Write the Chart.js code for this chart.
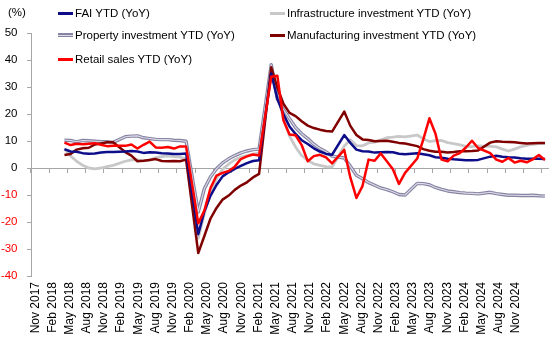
<!DOCTYPE html>
<html><head><meta charset="utf-8">
<script src="https://cdn.jsdelivr.net/npm/chart.js@4.4.1/dist/chart.umd.min.js"></script>
<style>
html,body{margin:0;padding:0;background:#fff;}
#wrap{position:relative;width:550px;height:338px;font-family:"Liberation Sans",Arial,sans-serif;font-size:11.5px;color:#000;overflow:hidden;}
#c{position:absolute;left:0;top:0;}
.lg{position:absolute;white-space:nowrap;line-height:14px;height:14px;}
.sw{position:absolute;left:0;width:15px;height:3px;}
.tx{position:absolute;left:17px;top:0;}
</style></head>
<body>
<div id="wrap">
<canvas id="c" width="550" height="338"></canvas>
<div class="lg" style="left:8px;top:5px;">(%)</div>
<div class="lg" style="left:58px;top:6px;"><span class="sw" style="top:5.5px;background:#0d0d8a"></span><span class="tx">FAI YTD (YoY)</span></div>
<div class="lg" style="left:270px;top:6px;"><span class="sw" style="top:5.5px;background:#c8c8c8"></span><span class="tx">Infrastructure investment YTD (YoY)</span></div>
<div class="lg" style="left:58px;top:28px;"><span class="sw" style="top:5px;height:4px;background:#8784a3"></span><span class="sw" style="top:6.5px;height:1px;background:#dcdbe8"></span><span class="tx">Property investment YTD (YoY)</span></div>
<div class="lg" style="left:270px;top:28px;"><span class="sw" style="top:5.5px;background:#800000"></span><span class="tx">Manufacturing investment YTD (YoY)</span></div>
<div class="lg" style="left:58px;top:52px;"><span class="sw" style="top:5.5px;background:#ff0000"></span><span class="tx">Retail sales YTD (YoY)</span></div>
</div>
<script>
// Monthly categories, Nov 2017 .. Nov 2024
const months = [
 'Nov 2017','Dec 2017',
 'Jan 2018','Feb 2018','Mar 2018','Apr 2018','May 2018','Jun 2018','Jul 2018','Aug 2018','Sep 2018','Oct 2018','Nov 2018','Dec 2018',
 'Jan 2019','Feb 2019','Mar 2019','Apr 2019','May 2019','Jun 2019','Jul 2019','Aug 2019','Sep 2019','Oct 2019','Nov 2019','Dec 2019',
 'Jan 2020','Feb 2020','Mar 2020','Apr 2020','May 2020','Jun 2020','Jul 2020','Aug 2020','Sep 2020','Oct 2020','Nov 2020','Dec 2020',
 'Jan 2021','Feb 2021','Mar 2021','Apr 2021','May 2021','Jun 2021','Jul 2021','Aug 2021','Sep 2021','Oct 2021','Nov 2021','Dec 2021',
 'Jan 2022','Feb 2022','Mar 2022','Apr 2022','May 2022','Jun 2022','Jul 2022','Aug 2022','Sep 2022','Oct 2022','Nov 2022','Dec 2022',
 'Jan 2023','Feb 2023','Mar 2023','Apr 2023','May 2023','Jun 2023','Jul 2023','Aug 2023','Sep 2023','Oct 2023','Nov 2023','Dec 2023',
 'Jan 2024','Feb 2024','Mar 2024','Apr 2024','May 2024','Jun 2024','Jul 2024','Aug 2024','Sep 2024','Oct 2024','Nov 2024'
];
// Axis tick labels shown under the chart
const xTickLabels = [
 'Nov 2017','Feb 2018','May 2018','Aug 2018','Nov 2018','Feb 2019','May 2019','Aug 2019','Nov 2019',
 'Feb 2020','May 2020','Aug 2020','Nov 2020','Feb 2021','May 2021','Aug 2021','Nov 2021',
 'Feb 2022','May 2022','Aug 2022','Nov 2022','Feb 2023','May 2023','Aug 2023','Nov 2023',
 'Feb 2024','May 2024','Aug 2024','Nov 2024'
];
const yTicks = [-40,-30,-20,-10,0,10,20,30,40,50];

const fai = [null,null,null,null,null,
 7.0,6.1,6.0,5.5,5.3,5.4,5.7,5.9,5.9,
 null,6.1,6.3,6.1,5.6,5.8,5.7,5.5,5.4,5.2,5.2,5.4,
 null,-24.5,-16.1,-10.3,-6.3,-3.1,-1.6,-0.3,0.8,1.8,2.6,2.9,
 null,35.0,25.6,19.9,15.4,12.6,10.3,8.9,7.3,6.1,5.2,4.9,
 null,12.2,9.3,6.8,6.2,6.1,5.7,5.8,5.9,5.8,5.3,5.1,
 null,5.5,5.1,4.7,4.0,3.8,3.4,3.2,3.1,2.9,2.9,3.0,
 null,4.2,4.5,4.2,4.0,3.9,3.6,3.4,3.4,3.4,3.3];

const infra = [null,null,null,null,null,
 7.0,4.5,2.5,1.0,0.0,-0.3,0.0,0.5,1.0,
 null,2.5,3.0,3.0,2.6,2.9,3.8,4.2,4.5,4.2,4.0,3.3,
 null,-26.0,-17.0,-9.0,-4.0,-0.5,1.5,3.0,4.0,4.6,5.1,5.5,
 null,35.5,27.5,18.4,11.8,7.8,4.6,2.9,1.5,1.0,0.5,0.4,
 null,8.1,10.5,8.3,8.2,9.3,9.6,10.4,11.2,11.4,11.7,11.5,
 null,12.2,10.8,9.8,10.1,10.2,9.4,9.0,8.6,8.0,7.9,8.2,
 null,8.0,7.8,7.0,6.3,7.0,7.8,8.4,8.8,9.0,9.1];

const property = [null,null,null,null,null,
 10.3,10.2,9.7,10.2,10.1,9.9,9.7,9.7,9.5,
 null,11.6,11.8,11.9,11.2,10.9,10.6,10.5,10.5,10.3,10.2,9.9,
 null,-16.3,-7.7,-3.3,-0.3,1.9,3.4,4.6,5.6,6.3,6.8,7.0,
 null,38.3,25.6,21.6,18.3,15.0,12.7,10.9,8.8,7.2,6.0,4.4,
 null,3.7,0.7,-2.7,-4.0,-5.4,-6.4,-7.4,-8.0,-8.8,-9.8,-10.0,
 null,-5.7,-5.8,-6.2,-7.2,-7.9,-8.5,-8.8,-9.1,-9.3,-9.4,-9.6,
 null,-9.0,-9.5,-9.8,-10.1,-10.1,-10.2,-10.2,-10.1,-10.3,-10.4];

const manufacturing = [null,null,null,null,null,
 4.8,5.2,6.8,7.3,7.5,8.7,9.1,9.5,9.5,
 null,5.9,4.6,2.5,2.7,3.0,3.3,2.6,2.5,2.6,2.5,3.1,
 null,-31.5,-25.2,-18.8,-14.8,-11.7,-10.2,-8.1,-6.5,-5.3,-3.5,-2.2,
 null,37.3,29.8,23.8,20.4,19.2,17.3,15.7,14.8,14.2,13.7,13.5,
 null,20.9,15.6,12.2,10.6,10.4,9.9,10.0,10.1,9.7,9.3,9.1,
 null,8.1,7.0,6.4,6.0,6.0,5.7,5.9,6.2,6.2,6.3,6.5,
 null,9.4,9.9,9.7,9.6,9.5,9.3,9.1,9.2,9.3,9.3];

const retail = [null,null,null,null,null,
 9.4,8.5,9.0,8.8,9.0,9.2,8.6,8.1,8.2,
 null,8.2,8.7,7.2,8.6,9.8,7.6,7.5,7.8,7.2,8.0,8.0,
 null,-20.5,-15.8,-7.5,-2.8,-1.8,-1.1,0.5,3.3,4.3,5.0,4.6,
 null,33.8,34.2,17.7,12.4,12.1,8.5,2.5,4.4,4.9,3.9,1.7,
 null,6.7,-3.5,-11.1,-6.7,3.1,2.7,5.4,2.5,-0.5,-5.9,-1.8,
 null,3.5,10.6,18.4,12.7,3.1,2.5,4.6,5.5,7.6,10.1,7.4,
 null,5.5,3.1,2.3,3.7,2.0,2.7,2.1,3.2,4.8,3.0];

const AXIS = '#a6a6a6';
const FONT = '"Liberation Sans", Arial, sans-serif';
Chart.defaults.font.family = FONT;
Chart.defaults.font.size = 11.5;
Chart.defaults.color = '#000';

// inner light stroke for the "double" property line
const doubleLine = {
  id: 'doubleLine',
  afterDatasetDraw(chart, args) {
    const ds = chart.data.datasets[args.index];
    if (!ds.innerColor) return;
    const ctx = chart.ctx, a = chart.chartArea;
    ctx.save();
    ctx.beginPath(); ctx.rect(a.left, a.top - 3, a.right - a.left, a.bottom - a.top + 6); ctx.clip();
    ctx.beginPath();
    args.meta.dataset.path(ctx);
    ctx.strokeStyle = ds.innerColor; ctx.lineWidth = 1.1; ctx.lineJoin = 'round';
    ctx.stroke();
    ctx.restore();
  }
};

function line(label, data, color, width, order, extra) {
  return Object.assign({label, data, borderColor: color, backgroundColor: color, borderWidth: width,
    pointRadius: 0, pointHoverRadius: 0, tension: 0, spanGaps: true, fill: false, order,
    borderJoinStyle: 'round'}, extra || {});
}

new Chart(document.getElementById('c'), {
  type: 'line',
  data: {
    labels: months,
    datasets: [
      line('FAI YTD (YoY)', fai, '#0d0d8a', 2.5, 1),
      line('Infrastructure investment YTD (YoY)', infra, '#c8c8c8', 2.8, 4),
      line('Property investment YTD (YoY)', property, '#8784a3', 3.4, 3, {innerColor: '#dcdbe8'}),
      line('Manufacturing investment YTD (YoY)', manufacturing, '#800000', 2.5, 2),
      line('Retail sales YTD (YoY)', retail, '#ff0000', 2.5, 0)
    ]
  },
  options: {
    responsive: false,
    animation: false,
    events: [],
    layout: {padding: {top: 33, right: 2, left: 0, bottom: 0}},
    plugins: {legend: {display: false}, tooltip: {enabled: false}},
    scales: {
      x: {
        type: 'category',
        offset: true,
        position: {y: 0},
        ticks: {display: false, autoSkip: false},
        grid: {
          offset: true, drawOnChartArea: false, drawTicks: true, tickLength: 4,
          color: c => (c.index !== undefined && c.index % 3 === 0) ? AXIS : 'rgba(0,0,0,0)',
          tickColor: c => (c.index !== undefined && c.index % 3 === 0) ? AXIS : 'rgba(0,0,0,0)'
        },
        border: {display: true, color: AXIS, width: 1}
      },
      x2: {
        type: 'linear',
        position: 'bottom',
        min: -0.245,
        max: 29.87,
        afterBuildTicks: s => { s.ticks = xTickLabels.map((_, i) => ({value: i})); },
        afterFit: s => { s.height = 62; },
        ticks: {
          autoSkip: false, maxRotation: 90, minRotation: 90, padding: 6,
          font: {size: 12, family: FONT}, color: '#000',
          callback: v => xTickLabels[v]
        },
        grid: {display: false, drawTicks: false},
        border: {display: false}
      },
      y: {
        type: 'linear',
        min: -40, max: 50,
        afterBuildTicks: s => { s.ticks = yTicks.map(v => ({value: v})); },
        afterFit: s => { s.width = 31; },
        ticks: {
          padding: 9.5,
          color: c => c.tick && c.tick.value < 0 ? '#ff0000' : '#000',
          callback: v => String(v)
        },
        grid: {drawOnChartArea: false, drawTicks: true, tickLength: 4, color: AXIS},
        border: {display: true, color: AXIS, width: 1}
      }
    }
  },
  plugins: [doubleLine]
});
</script>
</body></html>
